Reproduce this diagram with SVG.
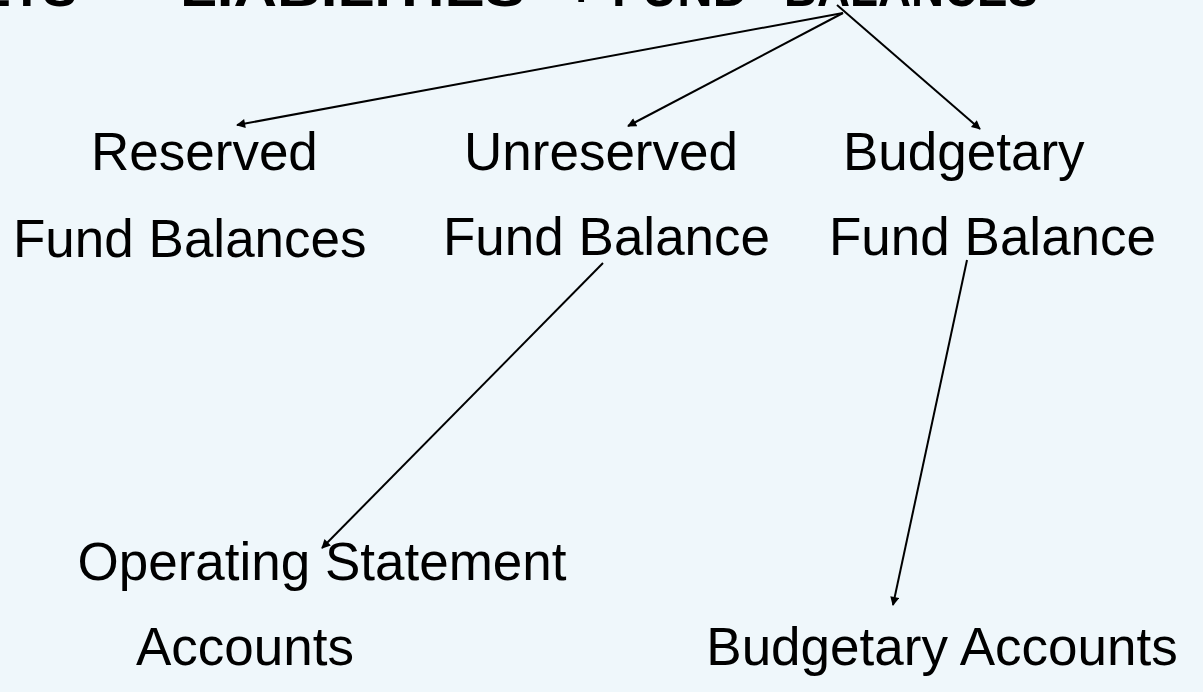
<svg xmlns="http://www.w3.org/2000/svg" width="1203" height="692" viewBox="0 0 1203 692">
<style>
.t{font-family:"Liberation Sans",Arial,sans-serif;font-size:53px;fill:#000}
.m{text-anchor:middle}
.h{font-family:"Liberation Sans",Arial,sans-serif;font-size:52px;font-weight:bold;fill:#000}
.c{stroke:#000;stroke-width:2;fill:none;marker-end:url(#a)}
</style>
<defs>
<marker id="a" viewBox="0 0 10 10" refX="9" refY="5" markerWidth="5.5" markerHeight="4.5" orient="auto" markerUnits="strokeWidth">
<path d="M0,0L10,5L0,10z" fill="#000"/>
</marker>
</defs>
<rect width="1203" height="692" fill="#EFF7FB"/>
<g id="header"><text class="h" y="6"><tspan x="-130" textLength="207" lengthAdjust="spacingAndGlyphs">ASSETS</tspan><tspan x="100">=</tspan><tspan x="180" textLength="345" lengthAdjust="spacingAndGlyphs">LIABILITIES</tspan><tspan x="566">+</tspan><tspan x="612" textLength="136" lengthAdjust="spacingAndGlyphs">FUND</tspan><tspan x="784" textLength="254" lengthAdjust="spacingAndGlyphs">BALANCES</tspan></text></g>
<g id="connectors">
<line class="c" x1="843" y1="13" x2="237" y2="125"/>
<line class="c" x1="843" y1="13" x2="628" y2="126"/>
<line class="c" x1="837" y1="5" x2="980" y2="129"/>
<line class="c" x1="603" y1="263" x2="322" y2="548"/>
<line class="c" x1="967" y1="260" x2="893" y2="605"/>
</g>
<g id="reserved"><text class="t" x="91" y="170">Reserved</text><text class="t" x="13" y="257">Fund Balances</text></g>
<g id="unreserved"><text class="t" x="464" y="170">Unreserved</text><text class="t" x="443" y="255">Fund Balance</text></g>
<g id="budgetary"><text class="t" x="843" y="170">Budgetary</text><text class="t" x="829" y="255">Fund Balance</text></g>
<g id="operating"><text class="t m" x="322" y="580">Operating Statement</text><text class="t m" x="245" y="665">Accounts</text></g>
<g id="budget-accounts"><text class="t m" x="942" y="665">Budgetary Accounts</text></g>
</svg>
